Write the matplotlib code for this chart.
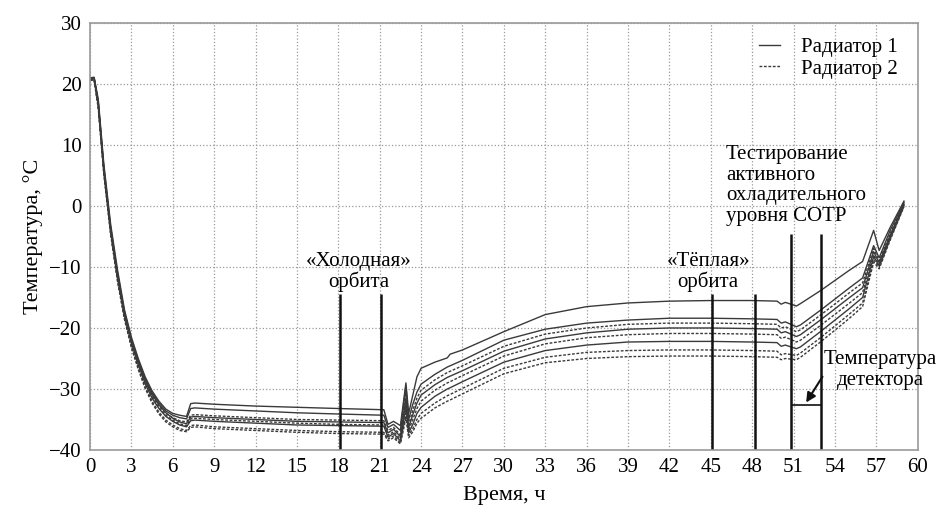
import matplotlib
matplotlib.use("Agg")
import matplotlib.pyplot as plt
from matplotlib.ticker import MultipleLocator

plt.rcParams['font.family'] = ['Liberation Serif', 'DejaVu Serif']

# время, ч
t = [0, 0.3, 0.6, 1.0, 1.5, 2.0, 2.5, 3.0, 3.5, 4.0, 4.5, 5.0, 5.5, 6.0, 6.5, 7.0,
     7.3, 7.6, 9, 12, 15, 18, 21.3, 21.6, 22.0, 22.5, 22.9, 23.1, 23.4, 23.7, 24.0,
     25.0, 25.9, 26.1, 27, 30, 33, 36, 39, 42, 45, 48, 49.8, 50.1, 50.4, 51.2, 51.5,
     53, 55, 56.0, 56.8, 57.2, 58, 59]

# Радиатор 1 (сплошные линии)
rad1_a = [21, 21.1, 17.5, 7, -3, -10.5, -17, -21.5, -25, -28, -30.3, -32, -33.3, -34.0, -34.3, -34.5,
          -32.4, -32.3, -32.5, -32.8, -33.0, -33.2, -33.4, -35.8, -35.3, -36.0, -29.0, -34.0, -31.0, -28.0, -26.6,
          -25.6, -24.9, -24.3, -23.6, -20.6, -17.8, -16.5, -15.9, -15.6, -15.5, -15.5, -15.6, -16.1, -15.8, -16.4, -16.0,
          -13.8, -10.6, -9.1, -4.0, -7.3, -3.5, 0.8]
rad1_b = [21, 21, 17.2, 6.5, -3.5, -11, -17.3, -21.8, -25.3, -28.3, -30.6, -32.3, -33.6, -34.3, -34.7, -34.9,
          -33.2, -33.1, -33.3, -33.6, -33.9, -34.1, -34.3, -36.3, -35.8, -36.8, -29.5, -35.0, -32.5, -30.5, -29.2,
          -27.6, -26.4, -26.2, -25.3, -22.0, -20.2, -19.2, -18.7, -18.4, -18.4, -18.5, -18.6, -19.2, -19.0, -19.8, -19.5,
          -17.0, -13.5, -11.8, -6.5, -8.5, -4.0, 0.6]
rad1_c = [21, 21, 16.9, 6.2, -3.8, -11.3, -17.6, -22, -25.6, -28.6, -30.9, -32.6, -33.9, -34.8, -35.4, -35.7,
          -34.6, -34.5, -34.7, -35.0, -35.3, -35.4, -35.5, -37.2, -36.6, -37.8, -31.5, -36.3, -34.2, -32.3, -31.0,
          -29.3, -28.1, -27.9, -27.0, -23.8, -21.8, -20.8, -20.2, -20.0, -20.0, -20.1, -20.2, -20.8, -20.6, -21.4, -21.1,
          -18.6, -15.1, -13.4, -7.5, -9.3, -4.8, 0.3]
rad1_d = [21, 21, 16.6, 5.9, -4.1, -11.7, -17.9, -22.4, -26, -29.1, -31.5, -33.2, -34.5, -35.3, -35.9, -36.2,
          -35.2, -35.1, -35.3, -35.6, -35.9, -36.0, -36.1, -37.9, -37.3, -38.5, -33.0, -37.2, -35.8, -34.0, -33.0,
          -31.2, -30.0, -29.8, -28.8, -25.6, -23.7, -22.8, -22.3, -22.2, -22.2, -22.3, -22.4, -23.0, -22.8, -23.4, -23.1,
          -20.5, -16.9, -15.0, -8.3, -9.8, -5.2, 0.1]

# Радиатор 2 (штриховые линии)
rad2_a = [20.8, 20.9, 16.8, 6, -4, -11.5, -17.8, -22.2, -25.7, -28.7, -31, -32.7, -34, -34.7, -35.2, -35.4,
          -34.3, -34.2, -34.4, -34.7, -35.0, -35.1, -35.2, -36.8, -36.3, -37.5, -30.5, -35.8, -33.5, -31.5, -30.2,
          -28.5, -27.3, -27.1, -26.2, -23.0, -21.0, -20.0, -19.4, -19.2, -19.2, -19.3, -19.4, -20.0, -19.8, -20.6, -20.3,
          -17.8, -14.3, -12.6, -7.0, -9.0, -4.5, 0.4]
rad2_b = [20.7, 20.8, 16.5, 5.8, -4.2, -11.8, -18, -22.5, -26, -29, -31.3, -33, -34.3, -35.1, -35.7, -36.0,
          -34.9, -34.8, -35.0, -35.3, -35.6, -35.8, -35.9, -37.6, -37.0, -38.2, -32.5, -36.8, -35.0, -33.2, -32.0,
          -30.2, -29.0, -28.8, -27.8, -24.6, -22.6, -21.6, -21.1, -20.9, -20.9, -21.0, -21.1, -21.7, -21.5, -22.3, -22.0,
          -19.5, -16.0, -14.2, -8.0, -9.6, -5.0, 0.2]
rad2_c = [20.6, 20.7, 16.2, 5.5, -4.5, -12.2, -18.4, -23, -26.5, -29.6, -32, -33.8, -35.1, -35.9, -36.5, -36.8,
          -36.0, -35.9, -36.2, -36.5, -36.8, -37.0, -37.1, -38.2, -37.7, -38.8, -34.0, -37.6, -36.5, -35.0, -34.0,
          -32.3, -31.1, -30.9, -29.9, -26.6, -24.8, -24.0, -23.7, -23.6, -23.6, -23.7, -23.8, -24.4, -24.2, -24.5, -24.1,
          -21.5, -17.8, -15.9, -8.8, -10.0, -5.4, 0.0]
rad2_d = [20.6, 20.6, 16.0, 5.3, -4.7, -12.4, -18.6, -23.2, -26.8, -29.9, -32.3, -34.1, -35.4, -36.2, -36.8, -37.0,
          -36.3, -36.2, -36.5, -36.8, -37.1, -37.3, -37.4, -38.5, -38.0, -39.0, -34.8, -38.0, -37.0, -35.6, -34.8,
          -33.1, -32.0, -31.8, -30.8, -27.5, -25.7, -25.0, -24.7, -24.6, -24.6, -24.7, -24.8, -25.2, -25.0, -25.2, -24.8,
          -22.2, -18.5, -16.5, -9.2, -10.3, -5.6, -0.1]

rad1 = [rad1_a, rad1_b, rad1_c, rad1_d]
rad2 = [rad2_a, rad2_b, rad2_c, rad2_d]

orbit_lines = [18.1, 21.1, 45.1, 48.2]
test_lines = [50.8, 53.0]
detector_temp = -32.6


fig = plt.figure(figsize=(9.45, 5.17), dpi=100)
ax = fig.add_axes([0.0952, 0.1296, 0.876, 0.826])

line_color = '#3a3a3a'
for i, y in enumerate(rad1):
    ax.plot(t, y, color=line_color, lw=1.0, label='Радиатор 1' if i == 0 else None)
for i, y in enumerate(rad2):
    ax.plot(t, y, color=line_color, lw=1.0, dashes=(2, 1.2),
            label='Радиатор 2' if i == 0 else None)

# вертикальные линии
ax.vlines(orbit_lines, -40, -14.4, color='#111111', lw=1.8)
ax.vlines(test_lines, -40, -4.6, color='#111111', lw=1.8)
ax.hlines(detector_temp, test_lines[0], test_lines[1], color='#111111', lw=1.2)

ax.text(19.5, -10.8, '«Холодная»\nорбита', ha='center', va='center', fontsize=15, linespacing=1.0)
ax.text(44.8, -10.8, '«Тёплая»\nорбита', ha='center', va='center', fontsize=15, linespacing=1.0)
ax.text(46.1, 10.0, 'Тестирование\nактивного\nохладительного\nуровня СОТР', ha='left', va='top',
        fontsize=15, linespacing=1.12)
ax.text(57.3, -26.9, 'Температура\nдетектора', ha='center', va='center', fontsize=15,
        linespacing=1.2, clip_on=False)
ax.annotate('', xy=(51.8, detector_temp), xytext=(53.2, -27.6),
            arrowprops=dict(arrowstyle='-|>', color='#111111', lw=1.5, mutation_scale=14))

ax.set_xlim(0, 60)
ax.set_ylim(-40, 30)
ax.xaxis.set_major_locator(MultipleLocator(3))
ax.yaxis.set_major_locator(MultipleLocator(10))
ax.tick_params(length=0, labelsize=15, pad=6)
ax.grid(True, color='#9a9a9a', ls=':', lw=0.9)
for s in ax.spines.values():
    s.set_color('#9a9a9a')
    s.set_linewidth(1.2)

ax.set_xlabel('Время, ч', fontsize=16, labelpad=6)
ax.set_ylabel('Температура, °C', fontsize=16, labelpad=4)

leg = ax.legend(loc='upper right', bbox_to_anchor=(0.993, 1.0), frameon=False, fontsize=15,
                handlelength=1.0, handletextpad=1.0, labelspacing=0.1, borderaxespad=0.3)

fig.savefig('out.png', dpi=100)
